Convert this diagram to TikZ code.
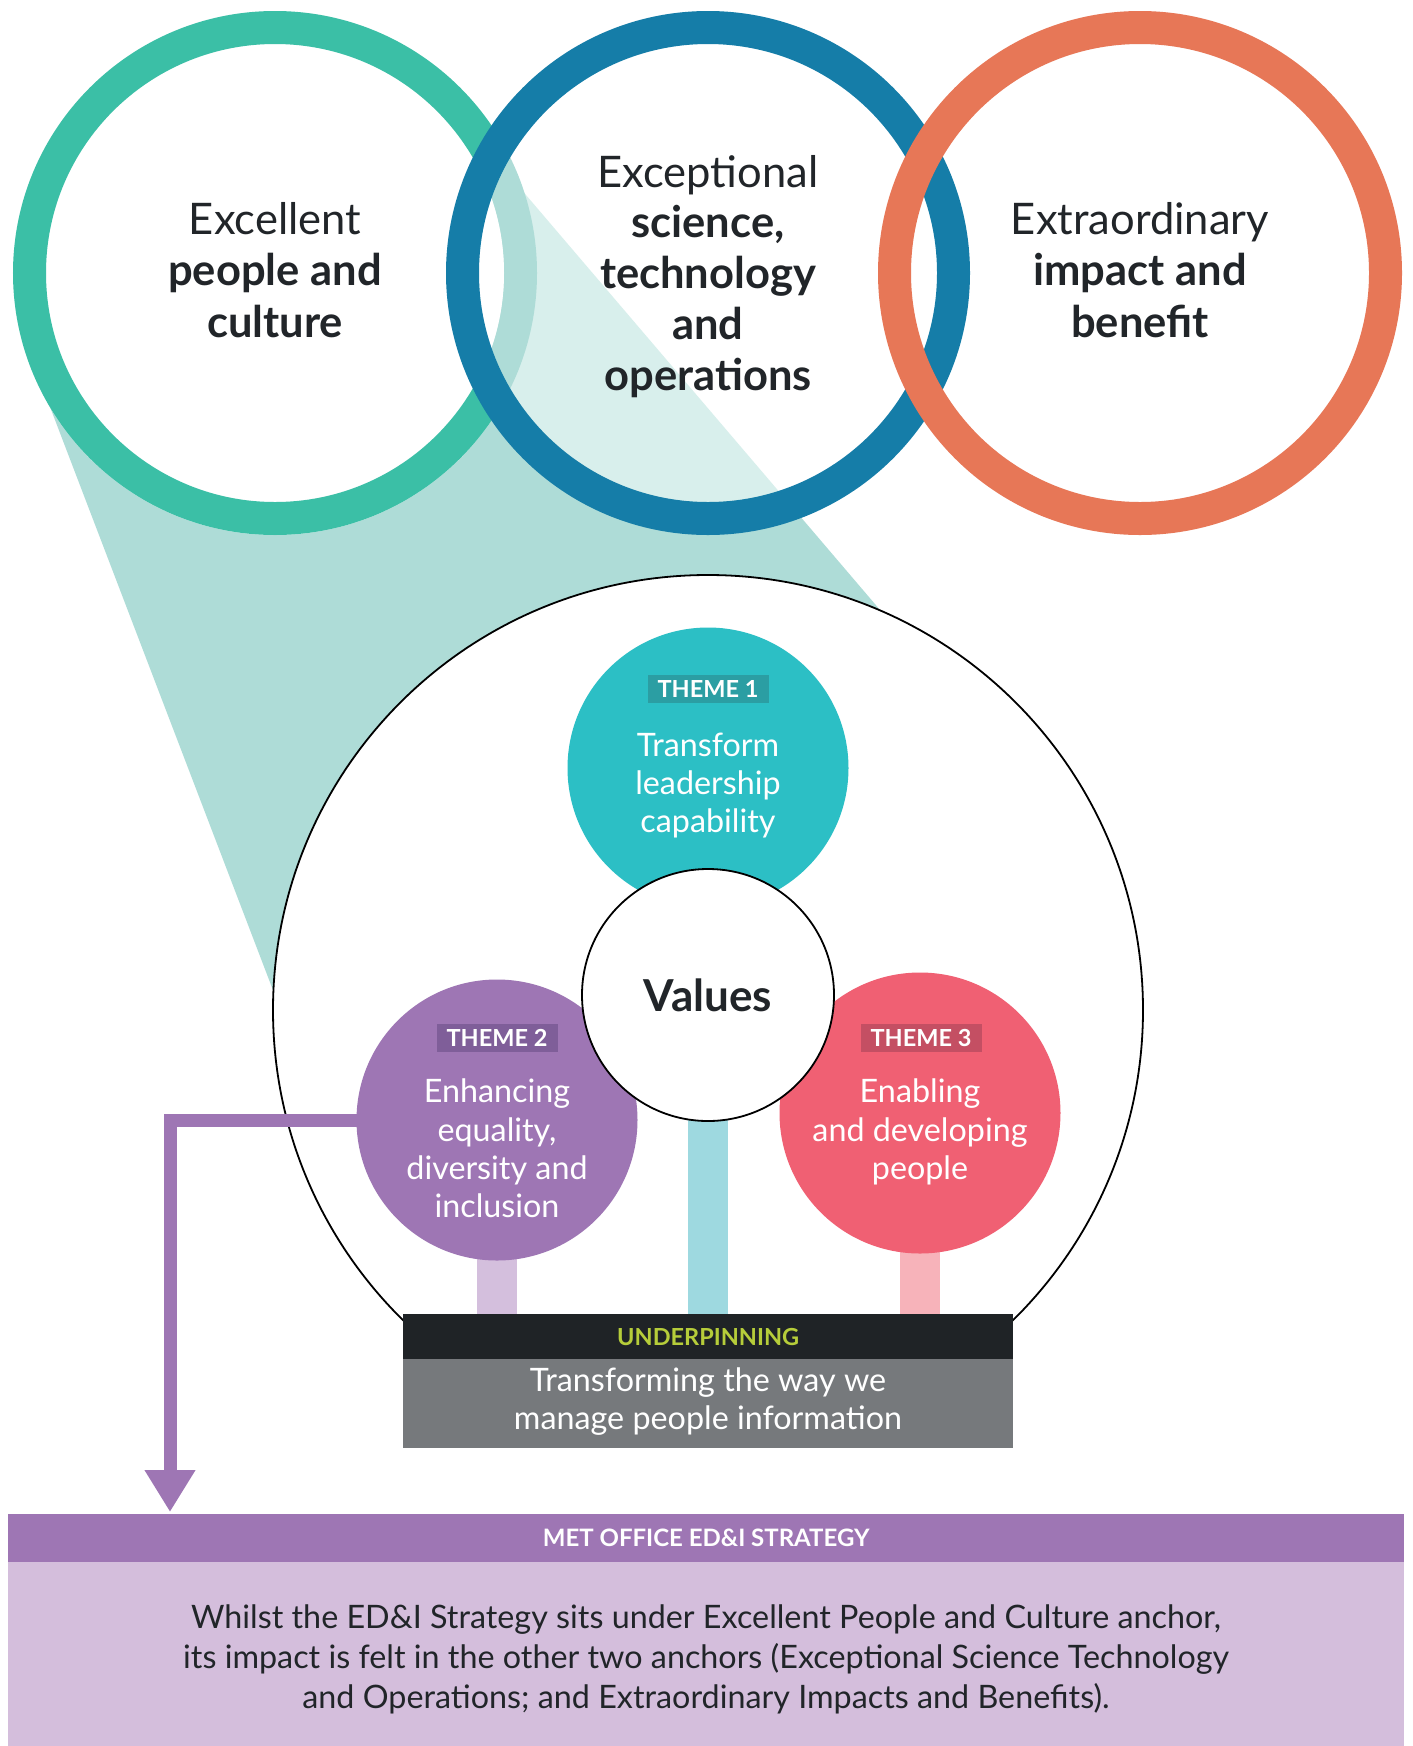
\documentclass[tikz,border=0pt]{standalone}
\usepackage{fontspec}
\setmainfont{Lato}
\usetikzlibrary{arrows.meta}
\definecolor{ringgreen}{HTML}{3BBFA6}
\definecolor{ringblue}{HTML}{157DA8}
\definecolor{ringorange}{HTML}{E77757}
\definecolor{conecol}{HTML}{AEDCD7}
\definecolor{conelight}{HTML}{D8EFEC}
\definecolor{tealc}{HTML}{2CBFC5}
\definecolor{teallab}{HTML}{2B9EA3}
\definecolor{purc}{HTML}{9E76B4}
\definecolor{purlab}{HTML}{7F5E99}
\definecolor{pinkc}{HTML}{F06073}
\definecolor{pinklab}{HTML}{C44F63}
\definecolor{stempur}{HTML}{D4BFDD}
\definecolor{stemteal}{HTML}{9ED9E0}
\definecolor{stempink}{HTML}{F7B3BA}
\definecolor{boxdark}{HTML}{1F2326}
\definecolor{boxgrey}{HTML}{76797C}
\definecolor{limetxt}{HTML}{B6CD3A}
\definecolor{lightpur}{HTML}{D4BEDC}
\definecolor{txtdark}{HTML}{212529}
\pgfdeclarelayer{back}
\pgfdeclarelayer{mid}
\pgfsetlayers{back,mid,main}
\tikzset{
  toptxt/.style={font=\fontsize{43.5}{50}\selectfont, text=txtdark, anchor=base, inner sep=0pt},
  topbold/.style={font=\fontsize{43.5}{50}\selectfont\bfseries, text=txtdark, anchor=base, inner sep=0pt},
  thtxt/.style={font=\fontsize{32.3}{38}\selectfont, text=white, anchor=base, inner sep=0pt},
  themecirc/.style={circle, minimum size=281pt, inner sep=0pt},
  themelab/.style={minimum width=121pt, minimum height=28.5pt, inner sep=0pt, text=white, font=\fontsize{23.5}{26}\selectfont\bfseries},
  ringline/.style={line width=33pt},
  stemline/.style={line width=40pt},
  bodytxt/.style={font=\fontsize{32.3}{40}\selectfont, text=txtdark, anchor=base, inner sep=0pt},
}
\begin{document}
\begin{tikzpicture}[x=1pt,y=-1pt]
\useasboundingbox (0,0) rectangle (1413,1746);
\begin{pgfonlayer}{back}
\fill[white] (0,0) rectangle (1413,1746);
% cone
\fill[conecol] (34,365) -- (520,188) -- (950,692) -- (315,1100) -- cycle;
% green ring
\fill[white] (275,273) circle[radius=262];
\draw[ringline, ringgreen] (275,273) circle[radius=245.5];
% blue interior
\begin{scope}
\clip (708,273) circle[radius=229];
\fill[white] (708,273) circle[radius=229];
\fill[conelight] (34,365) -- (520,188) -- (950,692) -- (315,1100) -- cycle;
\draw[ringline, conecol] (275,273) circle[radius=245.5];
\fill[white] (275,273) circle[radius=229];
\end{scope}
\draw[ringline, ringblue] (708,273) circle[radius=245.5];
\draw[ringline, ringorange] (1140,273) circle[radius=245.5];
% big circle
\filldraw[fill=white, draw=black, line width=1.8pt] (708,1010) circle[radius=435];
\end{pgfonlayer}

% top texts
\node[toptxt] (ex1) at (275,234.5) {Excellent};
\node[topbold] (ex2) at (275,285.5) {people and};
\node[topbold] (ex3) at (275,337) {culture};
\node[toptxt] (ec1) at (708,187) {Exceptional};
\node[topbold] (ec2) at (708,237.5) {science,};
\node[topbold] (ec3) at (708,288) {technology};
\node[topbold] (ec4) at (708,339) {and};
\node[topbold] (ec5) at (708,390) {operations};
\node[toptxt] (xo1) at (1140,234.5) {Extraordinary};
\node[topbold] (xo2) at (1140,285.5) {impact and};
\node[topbold] (xo3) at (1140,337) {benefit};

% theme circles
\node[themecirc, fill=tealc] (t1) at (708,768) {};
\node[themecirc, fill=purc] (t2) at (497,1120) {};
\node[themecirc, fill=pinkc] (t3) at (920,1113) {};
\node[circle, draw=black, line width=1.8pt, fill=white, minimum size=252pt, inner sep=0pt,
      font=\fontsize{44}{48}\selectfont\bfseries, text=txtdark] (values) at (708,995) {Values};

\node[themelab, fill=teallab] (lab1) at (708,689) {THEME 1};
\node[themelab, fill=purlab] (lab2) at (497,1038) {THEME 2};
\node[themelab, fill=pinklab] (lab3) at (921,1038) {THEME 3};

\node[thtxt] (a1) at (708,756) {Transform};
\node[thtxt] (a2) at (708,794) {leadership};
\node[thtxt] (a3) at (708,832) {capability};
\node[thtxt] (b1) at (497,1102.5) {Enhancing};
\node[thtxt] (b2) at (497,1141) {equality,};
\node[thtxt] (b3) at (497,1179) {diversity and};
\node[thtxt] (b4) at (497,1217) {inclusion};
\node[thtxt] (c1) at (920,1102.5) {Enabling};
\node[thtxt] (c2) at (920,1141) {and developing};
\node[thtxt] (c3) at (920,1179) {people};

% underpinning box
\node[anchor=north west, fill=boxdark, minimum width=610pt, minimum height=45pt, inner sep=0pt,
      text=limetxt, font=\fontsize{23.5}{26}\selectfont\bfseries] (ubar) at (403,1314) {UNDERPINNING};
\node[anchor=north west, fill=boxgrey, minimum width=610pt, minimum height=89pt, inner sep=0pt] (ubox) at (403,1358.5) {};
\node[thtxt] (u1) at (708,1391) {Transforming the way we};
\node[thtxt] (u2) at (708,1429.5) {manage people information};

% bottom box
\node[anchor=north west, fill=purc, minimum width=1396pt, minimum height=48pt, inner sep=0pt,
      text=white, font=\fontsize{24}{26}\selectfont\bfseries] (mbar) at (8,1514) {MET OFFICE ED\&I STRATEGY};
\node[anchor=north west, fill=lightpur, minimum width=1396pt, minimum height=185pt, inner sep=0pt] (mbox) at (8,1561.5) {};
\node[bodytxt] (m1) at (706,1628) {Whilst the ED\&I Strategy sits under Excellent People and Culture anchor,};
\node[bodytxt] (m2) at (706,1668) {its impact is felt in the other two anchors (Exceptional Science Technology};
\node[bodytxt] (m3) at (706,1708) {and Operations; and Extraordinary Impacts and Benefits).};

\coordinate (bend) at (170,1120);
\coordinate (tip) at (170,1512);
\begin{pgfonlayer}{mid}
\draw[stemline, stempur] (t2.center) -- (t2.center |- ubar.north);
\draw[stemline, stemteal] (values.center) -- (values.center |- ubar.north);
\draw[stemline, stempink] (t3.center) -- (t3.center |- ubar.north);
\draw[purc, line width=13pt, line join=miter, -{Triangle[width=48pt,length=42pt]}] (t2.center) -- (bend) -- (tip);
\end{pgfonlayer}
\end{tikzpicture}
\end{document}
